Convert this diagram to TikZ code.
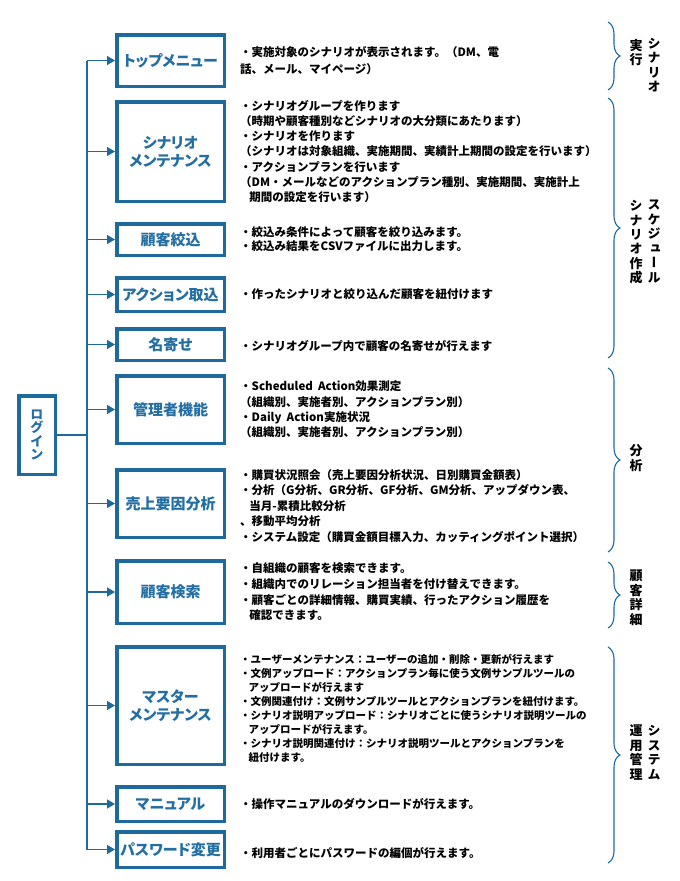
\documentclass[tikz,border=0pt]{standalone}
\usepackage{fontspec}
\setmainfont{Noto Sans CJK JP}
\newfontfamily\jpvert{Noto Sans CJK JP}[RawFeature=+vert]
\newfontfamily\jpprop{Noto Sans CJK JP}[RawFeature=+palt]
\usetikzlibrary{positioning,arrows.meta,decorations.pathreplacing}
\definecolor{boxblue}{HTML}{1F6A9C}
\definecolor{labelblue}{HTML}{236EA3}

\begin{document}
\begin{tikzpicture}
[x=1pt, y=-1pt,
 menu/.style={rectangle, draw=boxblue, line width=3.5pt, inner sep=0pt, minimum width=107.5pt, align=center, text=labelblue, font=\jpprop\fontsize{15}{18}\selectfont\bfseries},
 desc/.style={inner sep=0pt, align=left, anchor=west, font=\fontsize{11.5}{15.3}\selectfont\bfseries},
 group/.style={inner sep=0pt, align=center, font=\jpvert\fontsize{13}{14.5}\selectfont\bfseries},
 line/.style={draw=boxblue, line width=1.5pt},
 >={Triangle[length=8pt,width=9pt]},
 brace/.style={draw=boxblue, line width=1.1pt, decorate, decoration={brace, amplitude=12pt}}]
\useasboundingbox (0,0) rectangle (680,881);

%Nodes
\node[menu, minimum height=51.5pt] (top) at (170.5,60.5) {トップメニュー};
\node[menu, minimum height=99.5pt, below of=top, node distance=91pt] (scenario) {シナリオ\\メンテナンス};
\node[menu, minimum height=31.5pt, below of=scenario, node distance=88pt] (filter) {顧客絞込};
\node[menu, minimum height=33.5pt, below of=filter, node distance=55pt] (action) {アクション取込};
\node[menu, minimum height=31.5pt, below of=action, node distance=50pt] (merge) {名寄せ};
\node[menu, minimum height=67.5pt, below of=merge, node distance=65pt] (admin) {管理者機能};
\node[menu, minimum height=67.5pt, below of=admin, node distance=94pt] (sales) {売上要因分析};
\node[menu, minimum height=62.5pt, below of=sales, node distance=88.5pt] (search) {顧客検索};
\node[menu, minimum height=117.5pt, below of=search, node distance=113.5pt] (master) {マスター\\メンテナンス};
\node[menu, minimum height=34.5pt, below of=master, node distance=98.5pt] (manual) {マニュアル};
\node[menu, minimum height=35.5pt, below of=manual, node distance=45.5pt] (pass) {パスワード変更};
\node[menu, minimum width=36.5pt, minimum height=78.5pt, font=\jpvert\fontsize{13.5}{13.5}\selectfont\bfseries] (login) at (37,435) {ロ\\グ\\イ\\ン};
\coordinate (trunk) at (87,0);

%Descriptions
\node[desc, right=14pt of top, font=\fontsize{11.5}{16.5}\selectfont\bfseries] (topd) {・実施対象のシナリオが表示されます。（DM、電\\話、メール、マイページ）};
\node[desc, right=14pt of scenario] (scenariod) {・シナリオグループを作ります\\（時期や顧客種別などシナリオの大分類にあたります）\\・シナリオを作ります\\（シナリオは対象組織、実施期間、実績計上期間の設定を行います）\\・アクションプランを行います\\（DM・メールなどのアクションプラン種別、実施期間、実施計上\\\hspace*{0.8em}期間の設定を行います）};
\node[desc, right=14pt of filter, font=\fontsize{11.5}{14}\selectfont\bfseries] (filterd) {・絞込み条件によって顧客を絞り込みます。\\・絞込み結果をCSVファイルに出力します。};
\node[desc, right=14pt of action] (actiond) {・作ったシナリオと絞り込んだ顧客を紐付けます};
\node[desc, right=14pt of merge, yshift=-2pt] (merged) {・シナリオグループ内で顧客の名寄せが行えます};
\node[desc, right=14pt of admin] (admind) {・Scheduled\hspace{0.45em}Action効果測定\\（組織別、実施者別、アクションプラン別）\\・Daily\hspace{0.45em}Action実施状況\\（組織別、実施者別、アクションプラン別）};
\node[desc, right=14pt of sales, yshift=-2.5pt, font=\fontsize{11.5}{15.5}\selectfont\bfseries] (salesd) {・購買状況照会（売上要因分析状況、日別購買金額表）\\・分析（G分析、GR分析、GF分析、GM分析、アップダウン表、\\\hspace*{0.8em}当月-累積比較分析\\、移動平均分析\\・システム設定（購買金額目標入力、カッティングポイント選択）};
\node[desc, right=14pt of search, font=\fontsize{11.5}{15.7}\selectfont\bfseries] (searchd) {・自組織の顧客を検索できます。\\・組織内でのリレーション担当者を付け替えできます。\\・顧客ごとの詳細情報、購買実績、行ったアクション履歴を\\\hspace*{0.8em}確認できます。};
\node[desc, right=14pt of master, yshift=-3pt, font=\fontsize{10.5}{14}\selectfont\bfseries] (masterd) {・ユーザーメンテナンス：ユーザーの追加・削除・更新が行えます\\・文例アップロード：アクションプラン毎に使う文例サンプルツールの\\\hspace*{0.8em}アップロードが行えます\\・文例関連付け：文例サンプルツールとアクションプランを紐付けます。\\・シナリオ説明アップロード：シナリオごとに使うシナリオ説明ツールの\\\hspace*{0.8em}アップロードが行えます。\\・シナリオ説明関連付け：シナリオ説明ツールとアクションプランを\\\hspace*{0.8em}紐付けます。};
\node[desc, right=14pt of manual] (manuald) {・操作マニュアルのダウンロードが行えます。};
\node[desc, right=14pt of pass, yshift=-4pt] (passd) {・利用者ごとにパスワードの編個が行えます。};

%Groups
\node[group, anchor=north] (run1) at (654,38) {シ\\ナ\\リ\\オ};
\node[group, anchor=north] (run2) at (636,39) {実\\行};
\node[group, anchor=north] (plan1) at (654,200) {ス\\ケ\\ジ\\ュ\\ー\\ル};
\node[group, anchor=north] (plan2) at (636,200) {シ\\ナ\\リ\\オ\\作\\成};
\node[group] (analysis) at (636,458) {分\\析};
\node[group] (detail) at (636,598) {顧\\客\\詳\\細};
\node[group, anchor=north] (ops1) at (654,725) {シ\\ス\\テ\\ム};
\node[group, anchor=north] (ops2) at (636,725) {運\\用\\管\\理};

%Lines
\draw[line] (trunk |- top.west) -- (trunk |- pass.west);
\draw[line] (login.east) -- (trunk |- login.east);
\foreach \m in {top,scenario,filter,action,merge,admin,sales,search,master,manual,pass}
  \draw[line, ->] (trunk |- \m.west) -- (\m.west);

%Braces
\draw[brace] (608,22) -- (608,90);
\draw[brace] (608,98) -- (608,358);
\draw[brace] (608,368) -- (608,552);
\draw[brace] (608,562) -- (608,628);
\draw[brace] (608,647) -- (608,863);

\end{tikzpicture}
\end{document}
